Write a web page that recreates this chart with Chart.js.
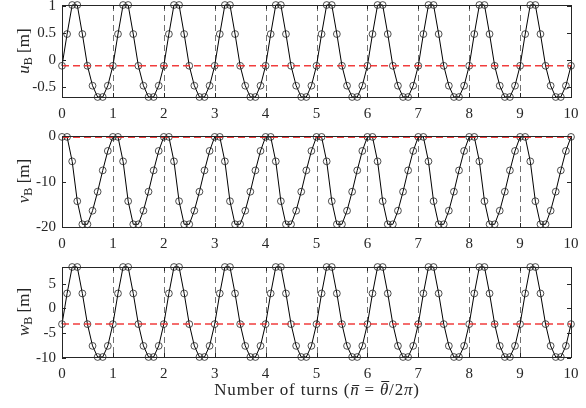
<!DOCTYPE html>
<html>
<head>
<meta charset="utf-8">
<script src="https://cdn.jsdelivr.net/npm/chart.js"></script>
<style>
  body { margin: 0; background: #fff; }
  #wrap { position: relative; width: 586px; height: 408px; overflow: hidden; font-family: "Liberation Serif", serif; color: #262626; }
  #wrap canvas { position: absolute; left: 0; }
  .ylab { position: absolute; left: 25px; font-size: 17px; white-space: nowrap; transform: translate(-50%, -50%) rotate(-90deg); }
  .ylab sub { font-size: 12px; vertical-align: -3px; }
  #xtitle { position: absolute; left: 317px; top: 390px; font-size: 17px; letter-spacing: 0.8px; white-space: nowrap; transform: translate(-50%, -50%); }
  .bar { position: relative; display: inline-block; }
  .bar::before { content: ''; position: absolute; left: 18%; right: 2%; top: var(--bar-top); border-top: 1px solid #262626; }
</style>
</head>
<body>
<div id="wrap">
  <canvas id="c-u" width="586" height="130" style="top:0px"></canvas>
  <canvas id="c-v" width="586" height="130" style="top:130px"></canvas>
  <canvas id="c-w" width="586" height="130" style="top:260px"></canvas>
  <div class="ylab" style="top:51px"><i>u</i><sub>B</sub> [m]</div>
  <div class="ylab" style="top:181px"><i>v</i><sub>B</sub> [m]</div>
  <div class="ylab" style="top:312px"><i>w</i><sub>B</sub> [m]</div>
  <div id="xtitle">Number of turns (<i class="bar" style="--bar-top: 0.32em">n</i> = <i class="bar" style="--bar-top: 0.08em">θ</i>/2<i>π</i>)</div>
</div>
<script>
// sample positions, in turns
const turns = [
  0.0, 0.1, 0.2, 0.3, 0.4, 0.5, 0.6, 0.7, 0.8, 0.9,
  1.0, 1.1, 1.2, 1.3, 1.4, 1.5, 1.6, 1.7, 1.8, 1.9,
  2.0, 2.1, 2.2, 2.3, 2.4, 2.5, 2.6, 2.7, 2.8, 2.9,
  3.0, 3.1, 3.2, 3.3, 3.4, 3.5, 3.6, 3.7, 3.8, 3.9,
  4.0, 4.1, 4.2, 4.3, 4.4, 4.5, 4.6, 4.7, 4.8, 4.9,
  5.0, 5.1, 5.2, 5.3, 5.4, 5.5, 5.6, 5.7, 5.8, 5.9,
  6.0, 6.1, 6.2, 6.3, 6.4, 6.5, 6.6, 6.7, 6.8, 6.9,
  7.0, 7.1, 7.2, 7.3, 7.4, 7.5, 7.6, 7.7, 7.8, 7.9,
  8.0, 8.1, 8.2, 8.3, 8.4, 8.5, 8.6, 8.7, 8.8, 8.9,
  9.0, 9.1, 9.2, 9.3, 9.4, 9.5, 9.6, 9.7, 9.8, 9.9,
  10.0
];

const uB = [
  -0.11, 0.48, 1.02, 1.02, 0.48, -0.11, -0.48, -0.69, -0.69, -0.48,
  -0.11, 0.48, 1.02, 1.02, 0.48, -0.11, -0.48, -0.69, -0.69, -0.48,
  -0.11, 0.48, 1.02, 1.02, 0.48, -0.11, -0.48, -0.69, -0.69, -0.48,
  -0.11, 0.48, 1.02, 1.02, 0.48, -0.11, -0.48, -0.69, -0.69, -0.48,
  -0.11, 0.48, 1.02, 1.02, 0.48, -0.11, -0.48, -0.69, -0.69, -0.48,
  -0.11, 0.48, 1.02, 1.02, 0.48, -0.11, -0.48, -0.69, -0.69, -0.48,
  -0.11, 0.48, 1.02, 1.02, 0.48, -0.11, -0.48, -0.69, -0.69, -0.48,
  -0.11, 0.48, 1.02, 1.02, 0.48, -0.11, -0.48, -0.69, -0.69, -0.48,
  -0.11, 0.48, 1.02, 1.02, 0.48, -0.11, -0.48, -0.69, -0.69, -0.48,
  -0.11, 0.48, 1.02, 1.02, 0.48, -0.11, -0.48, -0.69, -0.69, -0.48,
  -0.11
];

const vB = [
  -0.1, -0.1, -5.5, -14.3, -19.4, -19.4, -16.4, -12.2, -7.5, -3.2,
  -0.1, -0.1, -5.5, -14.3, -19.4, -19.4, -16.4, -12.2, -7.5, -3.2,
  -0.1, -0.1, -5.5, -14.3, -19.4, -19.4, -16.4, -12.2, -7.5, -3.2,
  -0.1, -0.1, -5.5, -14.3, -19.4, -19.4, -16.4, -12.2, -7.5, -3.2,
  -0.1, -0.1, -5.5, -14.3, -19.4, -19.4, -16.4, -12.2, -7.5, -3.2,
  -0.1, -0.1, -5.5, -14.3, -19.4, -19.4, -16.4, -12.2, -7.5, -3.2,
  -0.1, -0.1, -5.5, -14.3, -19.4, -19.4, -16.4, -12.2, -7.5, -3.2,
  -0.1, -0.1, -5.5, -14.3, -19.4, -19.4, -16.4, -12.2, -7.5, -3.2,
  -0.1, -0.1, -5.5, -14.3, -19.4, -19.4, -16.4, -12.2, -7.5, -3.2,
  -0.1, -0.1, -5.5, -14.3, -19.4, -19.4, -16.4, -12.2, -7.5, -3.2,
  -0.1
];

const wB = [
  -3.2, 3.0, 8.35, 8.35, 3.0, -3.2, -7.6, -9.85, -9.85, -7.6,
  -3.2, 3.0, 8.35, 8.35, 3.0, -3.2, -7.6, -9.85, -9.85, -7.6,
  -3.2, 3.0, 8.35, 8.35, 3.0, -3.2, -7.6, -9.85, -9.85, -7.6,
  -3.2, 3.0, 8.35, 8.35, 3.0, -3.2, -7.6, -9.85, -9.85, -7.6,
  -3.2, 3.0, 8.35, 8.35, 3.0, -3.2, -7.6, -9.85, -9.85, -7.6,
  -3.2, 3.0, 8.35, 8.35, 3.0, -3.2, -7.6, -9.85, -9.85, -7.6,
  -3.2, 3.0, 8.35, 8.35, 3.0, -3.2, -7.6, -9.85, -9.85, -7.6,
  -3.2, 3.0, 8.35, 8.35, 3.0, -3.2, -7.6, -9.85, -9.85, -7.6,
  -3.2, 3.0, 8.35, 8.35, 3.0, -3.2, -7.6, -9.85, -9.85, -7.6,
  -3.2, 3.0, 8.35, 8.35, 3.0, -3.2, -7.6, -9.85, -9.85, -7.6,
  -3.2
];

// mean levels (red dashed lines)
const uMean = -0.11;
const vMean = -0.2;
const wMean = -3.2;

const xTicks = [0, 1, 2, 3, 4, 5, 6, 7, 8, 9, 10];
const turnMarks = [1, 2, 3, 4, 5, 6, 7, 8, 9];
const uTicks = [-0.5, 0, 0.5, 1];
const vTicks = [-20, -10, 0];
const wTicks = [-10, -5, 0, 5];

const axisColor = '#262626';
const tickFont = { family: '"Liberation Serif", serif', size: 15 };

// box around the plot area, inward ticks on all four sides, dashed lines at each full turn
const framePlugin = {
  id: 'frame',
  beforeDatasetsDraw(chart) {
    const { ctx, chartArea: a, scales: { x } } = chart;
    ctx.save();
    ctx.strokeStyle = '#707070';
    ctx.lineWidth = 1;
    ctx.setLineDash([6, 4]);
    turnMarks.forEach(t => {
      const px = Math.round(x.getPixelForValue(t)) + 0.5;
      ctx.beginPath();
      ctx.moveTo(px, a.top);
      ctx.lineTo(px, a.bottom);
      ctx.stroke();
    });
    ctx.restore();
  },
  afterDraw(chart) {
    const { ctx, chartArea: a, scales: { x, y } } = chart;
    const len = 4;
    ctx.save();
    ctx.strokeStyle = axisColor;
    ctx.lineWidth = 1;
    ctx.beginPath();
    x.ticks.forEach(t => {
      const px = Math.round(x.getPixelForValue(t.value)) + 0.5;
      ctx.moveTo(px, a.bottom); ctx.lineTo(px, a.bottom - len);
      ctx.moveTo(px, a.top); ctx.lineTo(px, a.top + len);
    });
    y.ticks.forEach(t => {
      const py = Math.round(y.getPixelForValue(t.value)) + 0.5;
      ctx.moveTo(a.left, py); ctx.lineTo(a.left + len, py);
      ctx.moveTo(a.right, py); ctx.lineTo(a.right - len, py);
    });
    ctx.stroke();
    ctx.strokeRect(Math.round(a.left) + 0.5, Math.round(a.top) + 0.5,
      Math.round(a.right - a.left), Math.round(a.bottom - a.top));
    ctx.restore();
  }
};

function makePanel(id, values, mean, yTicks, yMin, yMax, padTop) {
  return new Chart(document.getElementById(id), {
    type: 'line',
    data: {
      labels: turns,
      datasets: [
        {
          data: [{ x: 0, y: mean }, { x: 10, y: mean }],
          borderColor: 'rgba(240, 40, 40, 0.9)',
          borderWidth: 1.5,
          borderDash: [7, 4],
          pointRadius: 0,
          clip: false
        },
        {
          data: values,
          borderColor: '#000',
          borderWidth: 1,
          tension: 0,
          pointRadius: 3.4,
          pointBorderWidth: 0.8,
          pointBorderColor: '#222',
          pointBackgroundColor: 'rgba(0,0,0,0)',
          clip: false
        }
      ]
    },
    options: {
      responsive: false,
      animation: false,
      devicePixelRatio: 1,
      layout: { padding: { left: 0, right: 15, top: padTop, bottom: 0 } },
      plugins: { legend: { display: false }, tooltip: { enabled: false } },
      scales: {
        x: {
          type: 'linear',
          min: 0,
          max: 10,
          afterBuildTicks: s => { s.ticks = xTicks.map(v => ({ value: v })); },
          afterFit: s => { s.height = 33; s.paddingLeft = 0; s.paddingRight = 0; },
          grid: { display: false, drawTicks: false },
          border: { display: false },
          ticks: { font: tickFont, color: axisColor, padding: 8, maxRotation: 0, autoSkip: false }
        },
        y: {
          min: yMin,
          max: yMax,
          afterBuildTicks: s => { s.ticks = yTicks.map(v => ({ value: v })); },
          afterFit: s => { s.width = 62; s.paddingTop = 0; s.paddingBottom = 0; },
          grid: { display: false, drawTicks: false },
          border: { display: false },
          ticks: { font: tickFont, color: axisColor, padding: 6, callback: v => String(v) }
        }
      }
    },
    plugins: [framePlugin]
  });
}

makePanel('c-u', uB, uMean, uTicks, -0.69, 1.02, 5);
makePanel('c-v', vB, vMean, vTicks, -20, 0.1, 6);
makePanel('c-w', wB, wMean, wTicks, -9.85, 8.35, 7);
</script>
</body>
</html>
